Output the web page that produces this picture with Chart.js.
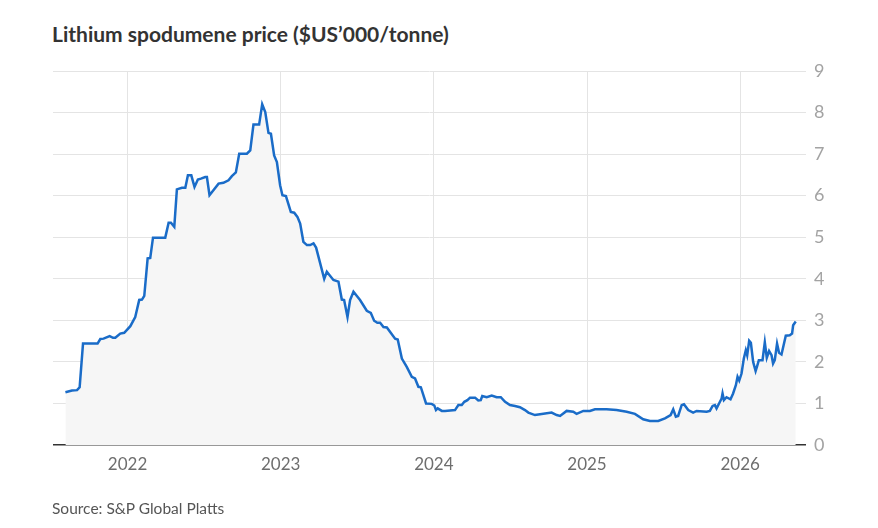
<!DOCTYPE html>
<html>
<head>
<meta charset="utf-8">
<script src="https://cdn.jsdelivr.net/npm/chart.js@4.4.1/dist/chart.umd.min.js"></script>
<style>
  body { margin: 0; background: #fff; font-family: "Lato", "Noto Sans", sans-serif; }
  .wrap { position: relative; width: 878px; height: 528px; }
  .title { position: absolute; left: 52px; top: 21px; font-size: 21px; font-weight: 700; color: #333; white-space: nowrap; }
  .source { position: absolute; left: 52px; top: 499px; font-size: 15.5px; color: #555; white-space: nowrap; }
  canvas { position: absolute; left: 0; top: 0; }
</style>
</head>
<body>
<div class="wrap">
  <div class="title">Lithium spodumene price ($US’000/tonne)</div>
  <canvas id="myChart" width="878" height="528"></canvas>
  <div class="source">Source: S&amp;P Global Platts</div>
</div>
<script>
// dates as decimal years, prices in $US'000 per tonne
let dates = [
  2021.594, 2021.637, 2021.670, 2021.687, 2021.709, 2021.804, 2021.822, 2021.843, 2021.883, 2021.905,
  2021.920, 2021.952, 2021.978, 2022.018, 2022.050, 2022.076, 2022.094, 2022.109, 2022.131, 2022.148,
  2022.166, 2022.246, 2022.268, 2022.283, 2022.305, 2022.322, 2022.355, 2022.377, 2022.394, 2022.416,
  2022.437, 2022.459, 2022.479, 2022.507, 2022.518, 2022.535, 2022.594, 2022.626, 2022.659, 2022.681,
  2022.707, 2022.729, 2022.779, 2022.801, 2022.822, 2022.859, 2022.879, 2022.899, 2022.920, 2022.936,
  2022.957, 2022.975, 2022.996, 2023.011, 2023.034, 2023.066, 2023.088, 2023.109, 2023.127, 2023.148,
  2023.171, 2023.192, 2023.214, 2023.231, 2023.284, 2023.301, 2023.344, 2023.377, 2023.399, 2023.414,
  2023.436, 2023.453, 2023.475, 2023.518, 2023.562, 2023.588, 2023.610, 2023.631, 2023.649, 2023.671,
  2023.693, 2023.747, 2023.764, 2023.791, 2023.823, 2023.856, 2023.877, 2023.899, 2023.915, 2023.949,
  2023.986, 2024.003, 2024.014, 2024.025, 2024.052, 2024.073, 2024.138, 2024.160, 2024.182, 2024.199,
  2024.219, 2024.236, 2024.269, 2024.290, 2024.306, 2024.316, 2024.345, 2024.378, 2024.410, 2024.437,
  2024.465, 2024.497, 2024.530, 2024.562, 2024.595, 2024.617, 2024.660, 2024.693, 2024.769, 2024.802,
  2024.824, 2024.867, 2024.910, 2024.932, 2024.976, 2025.019, 2025.052, 2025.128, 2025.193, 2025.259,
  2025.313, 2025.367, 2025.411, 2025.465, 2025.509, 2025.546, 2025.563, 2025.580, 2025.595, 2025.618,
  2025.633, 2025.661, 2025.693, 2025.716, 2025.781, 2025.802, 2025.820, 2025.835, 2025.846, 2025.868,
  2025.879, 2025.885, 2025.894, 2025.911, 2025.937, 2025.954, 2025.972, 2025.983, 2025.994, 2026.009,
  2026.024, 2026.037, 2026.046, 2026.059, 2026.070, 2026.085, 2026.101, 2026.111, 2026.122, 2026.146,
  2026.161, 2026.174, 2026.189, 2026.205, 2026.215, 2026.226, 2026.241, 2026.254, 2026.270, 2026.298,
  2026.324, 2026.339, 2026.346, 2026.363
]
let prices = [
  1.27, 1.31, 1.32, 1.39, 2.44, 2.44, 2.55, 2.56, 2.62, 2.58,
  2.58, 2.68, 2.70, 2.86, 3.08, 3.49, 3.50, 3.59, 4.49, 4.50,
  4.99, 4.99, 5.35, 5.35, 5.25, 6.15, 6.19, 6.19, 6.49, 6.49,
  6.21, 6.39, 6.41, 6.45, 6.45, 6.01, 6.29, 6.31, 6.37, 6.47,
  6.56, 7.01, 7.01, 7.09, 7.71, 7.71, 8.20, 8.01, 7.51, 7.49,
  6.97, 6.81, 6.25, 6.01, 5.99, 5.61, 5.59, 5.49, 5.33, 4.89,
  4.81, 4.81, 4.85, 4.75, 4.00, 4.17, 3.97, 3.93, 3.50, 3.49,
  3.08, 3.49, 3.69, 3.49, 3.23, 3.18, 2.99, 2.94, 2.94, 2.84,
  2.83, 2.56, 2.54, 2.08, 1.88, 1.64, 1.60, 1.40, 1.39, 1.00,
  0.99, 0.95, 0.84, 0.88, 0.82, 0.82, 0.84, 0.96, 0.96, 1.04,
  1.08, 1.14, 1.14, 1.07, 1.08, 1.18, 1.15, 1.19, 1.15, 1.15,
  1.04, 0.96, 0.94, 0.91, 0.84, 0.78, 0.72, 0.74, 0.78, 0.72,
  0.70, 0.82, 0.80, 0.75, 0.82, 0.82, 0.86, 0.86, 0.84, 0.80,
  0.75, 0.62, 0.58, 0.58, 0.64, 0.72, 0.86, 0.68, 0.70, 0.96,
  0.98, 0.84, 0.78, 0.82, 0.80, 0.82, 0.94, 0.96, 0.88, 1.04,
  1.12, 1.24, 1.08, 1.15, 1.10, 1.24, 1.44, 1.64, 1.55, 1.72,
  2.08, 2.28, 2.16, 2.51, 2.46, 2.00, 1.78, 1.90, 2.04, 2.04,
  2.47, 2.10, 2.26, 2.16, 1.96, 2.04, 2.44, 2.22, 2.18, 2.63,
  2.64, 2.68, 2.88, 2.97
]
let yearTicks = [2022, 2023, 2024, 2025, 2026]
let priceTicks = [0, 1, 2, 3, 4, 5, 6, 7, 8, 9]

let points = dates.map((d, i) => ({ x: d, y: prices[i] }))

const ctx = document.getElementById('myChart');

new Chart(ctx, {
  type: 'line',
  data: {
    datasets: [{
      data: points,
      borderColor: '#1a6cc8',
      borderWidth: 2.5,
      backgroundColor: '#f6f6f6',
      fill: 'origin',
      pointRadius: 0,
      tension: 0
    }]
  },
  options: {
    responsive: false,
    animation: false,
    layout: { padding: { left: 53, top: 71, right: 0, bottom: 0 } },
    plugins: { legend: { display: false }, tooltip: { enabled: false } },
    scales: {
      x: {
        type: 'linear',
        min: 2021.513,
        max: 2026.43,
        afterBuildTicks: (s) => { s.ticks = yearTicks.map(v => ({ value: v })) },
        afterFit: (s) => { s.height = 83 },
        grid: { color: '#e4e4e4', drawTicks: false, tickLength: 0 },
        border: { display: false },
        ticks: {
          padding: 9,
          color: '#6e6e6e',
          font: { family: 'Lato', size: 17 },
          callback: (v) => String(v)
        }
      },
      y: {
        position: 'right',
        min: 0,
        max: 9,
        afterBuildTicks: (s) => { s.ticks = priceTicks.map(v => ({ value: v })) },
        afterFit: (s) => { s.width = 72 },
        // the zero line doubles as the dark x axis line
        grid: {
          color: (c) => c.tick && c.tick.value === 0 ? '#333' : '#e4e4e4',
          lineWidth: (c) => c.tick && c.tick.value === 0 ? 1.5 : 1,
          drawTicks: false,
          tickLength: 0
        },
        border: { display: false },
        ticks: {
          padding: 8,
          color: '#a3a3a3',
          font: { family: 'Lato', size: 18 }
        }
      }
    }
  }
});
</script>
</body>
</html>
